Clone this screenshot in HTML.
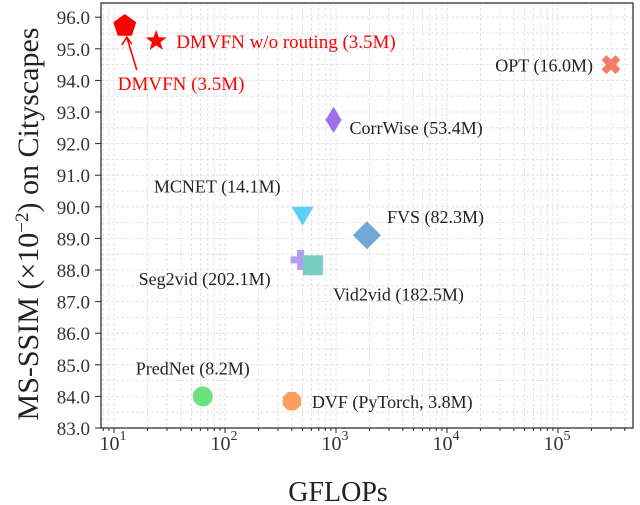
<!DOCTYPE html>
<html><head><meta charset="utf-8"><style>
html,body{margin:0;padding:0;background:#fff;}
svg{display:block;font-family:"Liberation Serif",serif;}
</style></head><body>
<svg id="c" width="640" height="505" viewBox="0 0 640 505" xmlns="http://www.w3.org/2000/svg">
<g id="grid"></g>
<g id="axes"></g>
<g id="marks"></g>
<text x="338" y="501" text-anchor="middle" font-size="28" fill="#222">GFLOPs</text>
<text transform="translate(38,224) rotate(-90)" text-anchor="middle" font-size="30" fill="#222">MS-SSIM (×10<tspan baseline-shift="super" font-size="19">−2</tspan>) on Cityscapes</text>
</svg>
<script>
const names=["DMVFN","DMVFN w/o routing","OPT","CorrWise","MCNET","FVS","Seg2vid","Vid2vid","PredNet","DVF"];
const labels=["DMVFN (3.5M)","DMVFN w/o routing (3.5M)","OPT (16.0M)","CorrWise (53.4M)","MCNET (14.1M)","FVS (82.3M)","Seg2vid (202.1M)","Vid2vid (182.5M)","PredNet (8.2M)","DVF (PyTorch, 3.8M)"];
const gflops=[12.5,24,300000,950,500,1900,480,620,63,400];
const ssim=[95.72,95.25,94.5,92.75,89.75,89.1,88.32,88.15,84.0,83.85];
const yTicks=[83,84,85,86,87,88,89,90,91,92,93,94,95,96];
const xTicks=[1,2,3,4,5];
const L=101,R=633,T=3,B=428;
function X(v){return 114+(Math.log10(v)-1)*111;}
function Y(v){return 428-(v-83)*31.6;}
const NS="http://www.w3.org/2000/svg";
function mk(p,tag,a){const e=document.createElementNS(NS,tag);for(const k in a)e.setAttribute(k,a[k]);p.appendChild(e);return e;}
const grid=document.getElementById('grid'),axes=document.getElementById('axes'),marks=document.getElementById('marks');
for(let d=0;d<=5;d++)for(let m=1;m<10;m++){const v=m*Math.pow(10,d);const x=X(v);if(x<=L||x>=R)continue;
 const g=mk(grid,'line',{x1:x,x2:x,y1:T,y2:B,stroke:'#ddd','stroke-width':0.8,'stroke-dasharray':'3,2'});
 }
for(let v=83;v<=96.5;v+=0.5){const y=Y(v);if(y<=T)continue;
 const g=mk(grid,'line',{x1:L,x2:R,y1:y,y2:y,stroke:'#ddd','stroke-width':0.8,'stroke-dasharray':'3,2'});
 }
const fr=mk(axes,'rect',{x:L,y:T,width:R-L,height:B-T,fill:'none',stroke:'#222','stroke-width':1.2});

yTicks.forEach(v=>{const y=Y(v);mk(axes,'line',{x1:L-6,x2:L,y1:y,y2:y,stroke:'#222','stroke-width':1});
 const t=mk(axes,'text',{x:L-11,y:y+7,'text-anchor':'end','font-size':19,fill:'#333'});t.textContent=v.toFixed(1);
 });
for(let d=0;d<=5;d++)for(let m=1;m<10;m++){const v=m*Math.pow(10,d);const x=X(v);if(x<=L||x>=R)continue;
 mk(axes,'line',{x1:x,x2:x,y1:B,y2:B+(m==1?5:3),stroke:'#222','stroke-width':1});}
xTicks.forEach(e=>{const x=X(Math.pow(10,e));const t=mk(axes,'text',{x:x-1,y:B+22,'text-anchor':'middle','font-size':20,fill:'#333'});
 t.innerHTML='10<tspan dy="-10" font-size="14">'+e+'</tspan>';});
function poly(cx,cy,n,r,rot){let p=[];for(let i=0;i<n;i++){const a=rot+i*2*Math.PI/n;p.push((cx+r*Math.cos(a)).toFixed(1)+','+(cy+r*Math.sin(a)).toFixed(1));}return p.join(' ');}
function star(cx,cy,r1,r2){let p=[];for(let i=0;i<10;i++){const r=i%2?r2:r1;const a=-Math.PI/2+i*Math.PI/5;p.push((cx+r*Math.cos(a)).toFixed(1)+','+(cy+r*Math.sin(a)).toFixed(1));}return p.join(' ');}
const shapes=[
 (x,y)=>mk(marks,'polygon',{points:poly(x,y,5,12,-Math.PI/2),fill:'#f00'}),
 (x,y)=>mk(marks,'polygon',{points:star(x,y,11,4.5),fill:'#f00'}),
 (x,y)=>mk(marks,'path',{d:`M${x-7},${y-7}L${x+7},${y+7}M${x+7},${y-7}L${x-7},${y+7}`,stroke:'#f47c6b','stroke-width':7}),
 (x,y)=>mk(marks,'polygon',{points:`${x},${y-13} ${x+8},${y} ${x},${y+13} ${x-8},${y}`,fill:'#9d6ff0'}),
 (x,y)=>mk(marks,'polygon',{points:`${x-11},${y-8} ${x+11},${y-8} ${x},${y+11}`,fill:'#5dcffa'}),
 (x,y)=>mk(marks,'polygon',{points:`${x},${y-14} ${x+14},${y} ${x},${y+14} ${x-14},${y}`,fill:'#6fa8d4'}),
 (x,y)=>mk(marks,'path',{d:`M${x-10},${y}H${x+10}M${x},${y-10}V${y+10}`,stroke:'#b49cf5','stroke-width':7}),
 (x,y)=>mk(marks,'rect',{x:x-10,y:y-10,width:20,height:20,fill:'#77cfc2'}),
 (x,y)=>mk(marks,'circle',{cx:x,cy:y,r:10,fill:'#6de27c'}),
 (x,y)=>mk(marks,'polygon',{points:poly(x,y,8,10,Math.PI/8),fill:'#f9a060'})];
const lab=[[-7,64,'start'],[20,7,'start'],[-18,7,'end'],[16,14,'start'],[-22,-22,'end'],[20,-12,'start'],[-30,25,'end'],[20,35,'start'],[47,-22,'end'],[20,7,'start']];
names.forEach((n,i)=>{const x=X(gflops[i]),y=Y(ssim[i]);const m=shapes[i](x,y);
 
 const red=i<2;
 const t=mk(marks,'text',{x:x+lab[i][0],y:y+lab[i][1],'text-anchor':lab[i][2],'font-size':red?19:18,fill:red?'#f00':'#222'});t.textContent=labels[i];
 });
{const x=X(gflops[0]),y=Y(ssim[0]);
 const a=mk(marks,'path',{d:`M${x+12},${y+44}L${x+2},${y+11}M${x-3},${y+19}L${x+2},${y+11}L${x+7},${y+18}`,stroke:'#f00','stroke-width':1.6,fill:'none'});
 }
</script>
</body></html>
